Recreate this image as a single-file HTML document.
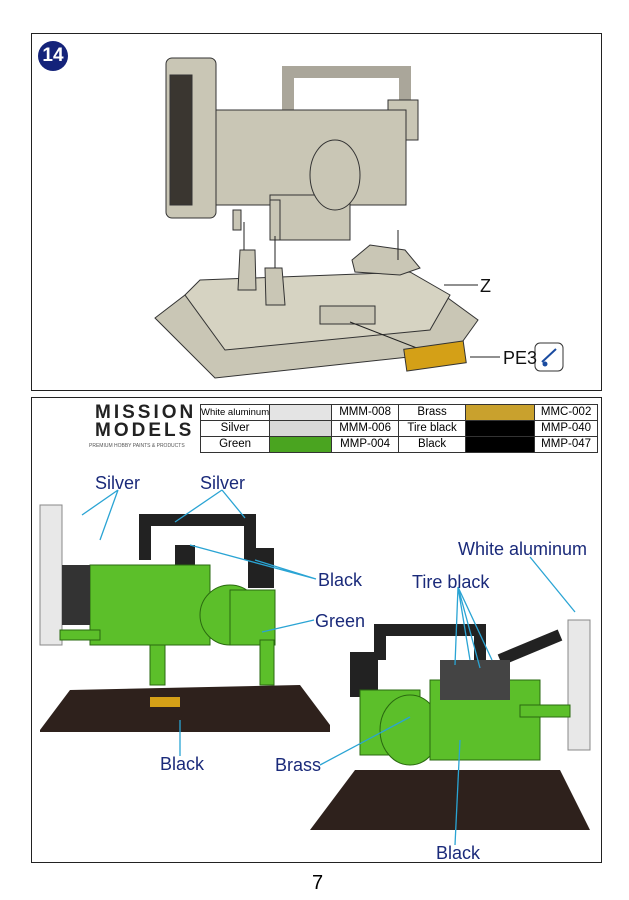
<!DOCTYPE html>
<html><head><meta charset="utf-8"><style>
body{margin:0;width:629px;height:900px;background:#fff;position:relative;font-family:"Liberation Sans",sans-serif;overflow:hidden}
.box{position:absolute;border:1.5px solid #222;box-sizing:border-box}
.t{position:absolute;color:#1a2a7a;font-size:18px;white-space:nowrap}
table{position:absolute;left:200px;top:404px;border-collapse:collapse;font-size:11.5px;table-layout:fixed}
td{border:1px solid #333;height:15px;padding:0;text-align:center;line-height:15px;white-space:nowrap;overflow:hidden}
</style></head><body>
<div class="box" style="left:31px;top:33px;width:571px;height:358px"></div>
<div class="box" style="left:31px;top:397px;width:571px;height:466px"></div>
<div style="position:absolute;left:38px;top:41px;width:30px;height:30px;border-radius:50%;background:#14237a;color:#fff;font-weight:bold;font-size:19px;text-align:center;line-height:30px">14</div>
<svg style="position:absolute;left:0;top:0" width="629" height="900">
<g stroke="#333" stroke-width="1" fill="#c9c6b5">
<polygon points="155,318 185,295 430,285 478,320 455,352 215,378"/>
<polygon points="185,295 200,280 410,272 450,295 430,330 225,350" fill="#d6d3c2"/>
<polygon points="352,260 370,245 405,250 420,268 400,275 355,272"/>
<polygon points="240,250 255,250 256,290 238,290"/>
<polygon points="265,268 282,268 285,305 266,305"/>
<rect x="320" y="306" width="55" height="18"/>
<path d="M288 110 V72 H405 V110" fill="none" stroke="#aaa69a" stroke-width="12"/>
<rect x="388" y="100" width="30" height="40"/>
<rect x="216" y="110" width="190" height="95"/>
<rect x="270" y="195" width="80" height="45"/>
<ellipse cx="335" cy="175" rx="25" ry="35"/>
<rect x="166" y="58" width="50" height="160" rx="6"/>
<rect x="170" y="75" width="22" height="130" fill="#3a3630"/>
<rect x="233" y="210" width="8" height="20"/>
<rect x="270" y="200" width="10" height="40"/>
</g>
<g stroke="#222" stroke-width="1"><line x1="244" y1="222" x2="244" y2="250"/><line x1="275" y1="236" x2="275" y2="268"/><line x1="398" y1="230" x2="398" y2="260"/>
<line x1="444" y1="285" x2="478" y2="285"/><line x1="440" y1="357" x2="350" y2="322"/><line x1="470" y1="357" x2="500" y2="357"/></g>
<rect x="405" y="345" width="60" height="22" fill="#d4a017" stroke="#333" transform="rotate(-8 435 356)"/>
<rect x="535" y="343" width="28" height="28" rx="5" fill="#fff" stroke="#333"/>
<path d="M542 362 L556 349" stroke="#1a4ba0" stroke-width="2"/><circle cx="545" cy="364" r="2.5" fill="#1a4ba0"/>
<rect x="40" y="505" width="22" height="140" fill="#e8e8e8" stroke="#888"/>
<path d="M145 560 V520 H250 V560" fill="none" stroke="#222" stroke-width="12"/>
<rect x="248" y="548" width="26" height="40" fill="#222"/>
<rect x="175" y="545" width="20" height="25" fill="#222"/>
<g fill="#5cbf2a" stroke="#2a6a10" stroke-width="1">
<rect x="90" y="565" width="120" height="80"/>
<ellipse cx="230" cy="615" rx="30" ry="30"/>
<rect x="230" y="590" width="45" height="55"/>
<rect x="60" y="630" width="40" height="10"/>
<rect x="150" y="645" width="15" height="40"/>
<rect x="260" y="640" width="14" height="45"/>
</g>
<rect x="62" y="565" width="28" height="60" fill="#333"/>
<polygon points="40,730 70,690 300,685 330,725 330,732 40,732" fill="#2e211c"/>
<rect x="150" y="697" width="30" height="10" fill="#d4a017"/>
<rect x="568" y="620" width="22" height="130" fill="#e8e8e8" stroke="#888"/>
<path d="M380 660 V630 H480 V660" fill="none" stroke="#222" stroke-width="12"/>
<path d="M500 660 L560 635" stroke="#222" stroke-width="12"/>
<rect x="350" y="652" width="28" height="45" fill="#222"/>
<g fill="#5cbf2a" stroke="#2a6a10" stroke-width="1">
<rect x="360" y="690" width="60" height="65"/>
<ellipse cx="410" cy="730" rx="30" ry="35"/>
<rect x="430" y="680" width="110" height="80"/>
<rect x="520" y="705" width="50" height="12"/>
</g>
<rect x="440" y="660" width="70" height="40" fill="#444"/>
<polygon points="310,830 340,790 355,770 560,770 575,800 590,830" fill="#2e211c"/>
<g stroke="#2aa4d4" stroke-width="1.3" fill="none">
<path d="M118 490 L82 515 M118 490 L100 540"/>
<path d="M222 490 L175 522 M222 490 L245 518"/>
<path d="M316 579 L255 560 M316 579 L190 545 M316 579 L275 568"/>
<path d="M314 620 L262 632"/>
<path d="M180 756 L180 720"/>
<path d="M530 557 L575 612"/>
<path d="M458 587 L470 660 M458 587 L455 665 M458 587 L480 668 M458 587 L492 660"/>
<path d="M320 765 L410 717"/>
<path d="M455 845 L460 740"/>
</g>
</svg>
<div class="t" style="left:480px;top:276px;color:#111">Z</div>
<div class="t" style="left:503px;top:348px;color:#111">PE3</div>
<div style="position:absolute;left:95px;top:404px;font-weight:bold;font-size:19px;letter-spacing:3px;line-height:18px;color:#222">MISSION<br>MODELS</div>
<div style="position:absolute;left:89px;top:443px;font-size:5px;color:#555">PREMIUM HOBBY PAINTS &amp; PRODUCTS</div>
<table>
<colgroup><col style="width:67px"><col style="width:62px"><col style="width:67px"><col style="width:67px"><col style="width:69px"><col style="width:63px"></colgroup>
<tr><td style="font-size:9.5px">White aluminum</td><td style="background:#e4e4e4"></td><td>MMM-008</td><td>Brass</td><td style="background:#c9a12d"></td><td>MMC-002</td></tr>
<tr><td>Silver</td><td style="background:#d8d8d8"></td><td>MMM-006</td><td>Tire black</td><td style="background:#000"></td><td>MMP-040</td></tr>
<tr><td>Green</td><td style="background:#4aa420"></td><td>MMP-004</td><td>Black</td><td style="background:#000"></td><td>MMP-047</td></tr>
</table>
<div class="t" style="left:95px;top:473px">Silver</div>
<div class="t" style="left:200px;top:473px">Silver</div>
<div class="t" style="left:318px;top:570px">Black</div>
<div class="t" style="left:315px;top:611px">Green</div>
<div class="t" style="left:160px;top:754px">Black</div>
<div class="t" style="left:458px;top:539px">White aluminum</div>
<div class="t" style="left:412px;top:572px">Tire black</div>
<div class="t" style="left:275px;top:755px">Brass</div>
<div class="t" style="left:436px;top:843px">Black</div>
<div style="position:absolute;left:312px;top:872px;font-size:20px">7</div>
</body></html>
